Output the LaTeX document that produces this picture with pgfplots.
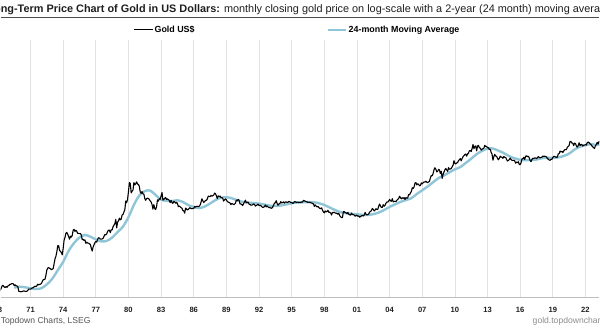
\documentclass[border=0pt]{standalone}
\usepackage{pgfplots}
\usepackage{pgfplotstable}
\pgfplotsset{compat=1.18}
\usepackage{fontspec}
\setmainfont{Liberation Sans}

\definecolor{maBlue}{RGB}{143,197,214}
\definecolor{gridGrey}{RGB}{226,226,226}
\definecolor{axisGrey}{RGB}{190,190,190}
\definecolor{srcGrey}{RGB}{85,85,85}
\definecolor{urlGrey}{RGB}{140,140,140}
\definecolor{inkDark}{RGB}{30,30,30}

% Gold, US$ per troy ounce, month-end close; one row of twelve months per year, 1968-2023
\pgfplotstableread[row sep=\\]{
p\\
35.2\\ 35.2\\ 37.0\\ 39.2\\ 41.5\\ 41.0\\ 39.6\\ 39.2\\ 40.2\\ 39.3\\ 40.9\\ 41.1\\
42.4\\ 42.6\\ 43.3\\ 43.4\\ 43.2\\ 41.3\\ 42.0\\ 41.0\\ 40.8\\ 40.0\\ 35.4\\ 35.2\\
34.9\\ 35.0\\ 35.1\\ 35.6\\ 35.8\\ 35.3\\ 35.3\\ 35.4\\ 36.2\\ 37.5\\ 37.4\\ 37.4\\
38.0\\ 38.8\\ 38.9\\ 39.9\\ 40.5\\ 40.1\\ 41.0\\ 42.8\\ 42.0\\ 42.5\\ 42.9\\ 43.6\\
46.0\\ 48.3\\ 48.3\\ 49.0\\ 54.6\\ 62.7\\ 66.0\\ 67.0\\ 65.4\\ 64.9\\ 62.9\\ 63.9\\
65.1\\ 74.2\\ 84.5\\ 90.5\\ 102\\ 120\\ 120\\ 106\\ 103\\ 100\\ 94\\ 112\\
139\\ 150\\ 168\\ 172\\ 163\\ 154\\ 143\\ 155\\ 151\\ 158\\ 182\\ 186.5\\
175.8\\ 181.8\\ 177\\ 167\\ 167\\ 166\\ 166.7\\ 159.8\\ 141\\ 142.9\\ 138.2\\ 140.3\\
128\\ 132.3\\ 128.8\\ 128.4\\ 126.4\\ 123.8\\ 112.5\\ 104\\ 116\\ 123.2\\ 130.3\\ 134.5\\
132.3\\ 142.8\\ 148.9\\ 147.3\\ 143\\ 143\\ 144.1\\ 146\\ 154.1\\ 162.3\\ 160.1\\ 164.9\\
175.8\\ 182.3\\ 181.6\\ 170.9\\ 184.2\\ 183.1\\ 200.3\\ 208.1\\ 217.1\\ 242.6\\ 193.4\\ 226\\
233.7\\ 251.3\\ 240.1\\ 245.3\\ 274.6\\ 277.5\\ 296.5\\ 315.1\\ 397.3\\ 382\\ 415.7\\ 512\\
653\\ 637\\ 494.5\\ 518\\ 535.5\\ 653.5\\ 614.3\\ 631.3\\ 666.8\\ 629\\ 619.8\\ 589.8\\
506.5\\ 489\\ 513.8\\ 482.8\\ 479.3\\ 426\\ 406\\ 425.5\\ 428.8\\ 427.5\\ 414.5\\ 400\\
387\\ 362.6\\ 320\\ 361.3\\ 325.3\\ 317\\ 342\\ 411.5\\ 397\\ 423.3\\ 416.8\\ 456.9\\
499.5\\ 408.5\\ 414.8\\ 429.3\\ 437.5\\ 416\\ 422\\ 414.3\\ 405\\ 382\\ 405\\ 382.4\\
373.8\\ 394.3\\ 388.5\\ 375.8\\ 384.3\\ 373.1\\ 342.4\\ 348.3\\ 341.1\\ 333.5\\ 329\\ 309\\
306.7\\ 287.8\\ 329.3\\ 321.4\\ 314\\ 317.8\\ 327.5\\ 333.3\\ 324\\ 325.3\\ 325.3\\ 326.8\\
345.5\\ 338.2\\ 344\\ 345.8\\ 343.2\\ 345.5\\ 357.5\\ 384.7\\ 423.2\\ 401\\ 383.5\\ 390.9\\
405.9\\ 405.9\\ 421.4\\ 453.3\\ 451\\ 447.3\\ 462.5\\ 453.4\\ 459.5\\ 466.5\\ 492.5\\ 484.1\\
458\\ 426.2\\ 457\\ 449\\ 455.5\\ 436.6\\ 436.8\\ 427.8\\ 397.7\\ 412.4\\ 422.6\\ 410.2\\
394\\ 387\\ 383.2\\ 377.6\\ 361.8\\ 373\\ 368.3\\ 359.8\\ 366.5\\ 375.3\\ 408.2\\ 401\\
415.1\\ 407.7\\ 368.5\\ 367.8\\ 363.1\\ 352.2\\ 372.3\\ 387.8\\ 408.4\\ 379.5\\ 384.9\\ 386.2\\
366\\ 362.7\\ 355.7\\ 357.8\\ 360.4\\ 368.4\\ 362.9\\ 347.4\\ 354.9\\ 357.5\\ 366.3\\ 353.2\\
354.1\\ 353.1\\ 341.7\\ 336.4\\ 337.5\\ 343.4\\ 357.8\\ 340\\ 349\\ 339.3\\ 334.2\\ 332.9\\
330.5\\ 327.6\\ 337.8\\ 354.3\\ 377.5\\ 378.5\\ 401.8\\ 371.6\\ 355.5\\ 369.6\\ 370.9\\ 391.8\\
377.9\\ 381.6\\ 389.2\\ 376.5\\ 387.6\\ 388.3\\ 384\\ 385.8\\ 394.9\\ 389.1\\ 383.1\\ 383.3\\
374.9\\ 376.4\\ 392\\ 389.8\\ 384.3\\ 387.1\\ 383.4\\ 382.4\\ 384\\ 382.7\\ 387.8\\ 387\\
405.6\\ 400.7\\ 396.4\\ 391.3\\ 390.6\\ 382\\ 385.3\\ 386.5\\ 379\\ 379.5\\ 371.3\\ 369.3\\
345.5\\ 358.6\\ 348.2\\ 340.2\\ 345.6\\ 334.6\\ 326.4\\ 325.4\\ 332.1\\ 311.4\\ 296.8\\ 290.2\\
304.9\\ 297.4\\ 301.5\\ 310.7\\ 293.6\\ 296.3\\ 288.9\\ 273.4\\ 293.9\\ 292.3\\ 294.7\\ 287.5\\
287.1\\ 287.3\\ 279.5\\ 286.6\\ 268.6\\ 261\\ 255.6\\ 254.8\\ 299\\ 299.1\\ 291.4\\ 290.3\\
283.3\\ 293.7\\ 278.4\\ 275.1\\ 272.3\\ 288.2\\ 276.8\\ 277\\ 273.7\\ 264.5\\ 269.1\\ 272.7\\
264.5\\ 266.7\\ 257.7\\ 263.2\\ 267.5\\ 270.6\\ 265.9\\ 273\\ 293.1\\ 278.8\\ 274.2\\ 276.5\\
282.3\\ 296.9\\ 301.4\\ 308.2\\ 326.6\\ 318.5\\ 304.7\\ 312.8\\ 323.7\\ 316.9\\ 319.1\\ 347.2\\
367.5\\ 347.5\\ 334.9\\ 336.8\\ 361.4\\ 346\\ 354.8\\ 375.6\\ 388\\ 386.3\\ 398.4\\ 416.3\\
399.8\\ 395.9\\ 423.7\\ 388.5\\ 393.3\\ 395.8\\ 391.4\\ 407.3\\ 415.7\\ 425.6\\ 453.4\\ 435.6\\
422.2\\ 435.5\\ 427.5\\ 435.7\\ 414.5\\ 437.1\\ 429\\ 433.3\\ 473.3\\ 470.8\\ 495.7\\ 513\\
568.8\\ 556\\ 582\\ 644\\ 653\\ 613.5\\ 632.5\\ 623.5\\ 599.3\\ 603.8\\ 646.7\\ 632\\
650.5\\ 664.2\\ 661.8\\ 677\\ 659.1\\ 650.5\\ 665.5\\ 672\\ 743\\ 789.5\\ 783.5\\ 833.8\\
923.3\\ 971.5\\ 933.5\\ 871\\ 885.8\\ 930.3\\ 918\\ 833\\ 884.5\\ 730.8\\ 814.5\\ 869.8\\
919.5\\ 952\\ 916.5\\ 883.3\\ 975.5\\ 934.5\\ 939\\ 955.5\\ 995.8\\ 1040\\ 1175.8\\ 1087.5\\
1078.5\\ 1108.3\\ 1115.5\\ 1179.3\\ 1207.5\\ 1244\\ 1169\\ 1246\\ 1307\\ 1346.8\\ 1383.5\\ 1405.5\\
1327\\ 1411\\ 1439\\ 1535.5\\ 1536.5\\ 1505.5\\ 1628.5\\ 1813.5\\ 1620\\ 1722\\ 1746\\ 1531\\
1744\\ 1770\\ 1662.5\\ 1651.3\\ 1558\\ 1598.5\\ 1622\\ 1648.5\\ 1776\\ 1719\\ 1726\\ 1657.5\\
1664.8\\ 1588.5\\ 1598.3\\ 1469\\ 1394.5\\ 1192\\ 1314.5\\ 1394.8\\ 1326.5\\ 1324\\ 1253\\ 1204.5\\
1251\\ 1326.5\\ 1291.8\\ 1288.5\\ 1250.5\\ 1315\\ 1285.8\\ 1285.8\\ 1216.5\\ 1164.3\\ 1182.8\\ 1206\\
1260.3\\ 1214\\ 1187\\ 1180.3\\ 1190.5\\ 1171\\ 1098.4\\ 1135\\ 1115.5\\ 1142.4\\ 1061.3\\ 1060\\
1111.8\\ 1234.9\\ 1237\\ 1285.7\\ 1214.7\\ 1320.8\\ 1342\\ 1308.4\\ 1322.5\\ 1272\\ 1178.1\\ 1145.9\\
1212.8\\ 1255.6\\ 1244.9\\ 1266.5\\ 1266.2\\ 1242.3\\ 1267.6\\ 1311.8\\ 1283.1\\ 1270.2\\ 1280.2\\ 1291\\
1331.3\\ 1317.9\\ 1324.7\\ 1315.1\\ 1298.2\\ 1250.5\\ 1220.5\\ 1200.1\\ 1187.3\\ 1215\\ 1217.6\\ 1279\\
1319.2\\ 1319.9\\ 1295.4\\ 1283.5\\ 1295.7\\ 1409\\ 1419.4\\ 1520.4\\ 1485.3\\ 1511\\ 1464\\ 1514.8\\
1573.6\\ 1585.1\\ 1577.2\\ 1686.7\\ 1725.3\\ 1768.1\\ 1970.6\\ 1968.1\\ 1886.9\\ 1879.9\\ 1762.6\\ 1887.6\\
1863.8\\ 1743.3\\ 1691.1\\ 1767.9\\ 1900.3\\ 1763.2\\ 1812.7\\ 1814\\ 1742.8\\ 1782.5\\ 1785.7\\ 1805.9\\
1788.2\\ 1908.3\\ 1942.2\\ 1911.3\\ 1848.4\\ 1817\\ 1753.4\\ 1711.1\\ 1660.6\\ 1633.6\\ 1753.8\\ 1813.8\\
1923.9\\ 1836.5\\ 1969\\ 1990\\ 1962.6\\ 1912.3\\ 1970.1\\ 1942.3\\ 1870.1\\ 1983.3\\ 2034.7\\ 2062.4\\
}\goldtab

% 24-month moving average at the end of each June and December (m = months after Jan 1968)
\pgfplotstableread[row sep=\\]{
m v\\
18 39.0\\ 24 40.0\\ 30 39.3\\ 36 38.4\\ 42 37.6\\ 48 38.4\\ 54 42.5\\ 60 49.6\\
66 62.1\\ 72 77.9\\ 78 104.5\\ 84 128.9\\ 90 149.6\\ 96 160.2\\ 102 152.8\\ 108 142.2\\
114 134.8\\ 120 136.6\\ 126 149.5\\ 132 173.1\\ 138 200.9\\ 144 258.6\\ 150 359.2\\ 156 461.8\\
162 519.1\\ 168 526.8\\ 174 467.7\\ 180 413.4\\ 186 401.2\\ 192 397.4\\ 198 406.4\\ 204 387.9\\
210 357.5\\ 216 338.8\\ 222 329.4\\ 228 343.4\\ 234 372.9\\ 240 408.6\\ 246 434.5\\ 252 441.4\\
258 428.6\\ 264 406.1\\ 270 389.1\\ 276 381.2\\ 282 376.8\\ 288 371.1\\ 294 362.4\\ 300 351.4\\
306 348.7\\ 312 353.6\\ 318 363.4\\ 324 374.5\\ 330 382.8\\ 336 384.7\\ 342 387.5\\ 348 385.4\\
354 375.8\\ 360 358.0\\ 366 334.6\\ 372 312.1\\ 378 295.3\\ 384 287.3\\ 390 282.6\\ 396 278.6\\
402 275.2\\ 408 274.0\\ 414 280.0\\ 420 292.1\\ 426 313.1\\ 432 340.5\\ 438 364.0\\ 444 389.2\\
450 409.1\\ 456 429.8\\ 462 480.6\\ 468 531.0\\ 474 588.9\\ 480 658.6\\ 486 737.7\\ 492 792.4\\
498 859.8\\ 504 930.9\\ 510 990.0\\ 516 1106.9\\ 522 1239.1\\ 528 1400.3\\ 534 1527.4\\ 540 1622.9\\
546 1629.2\\ 552 1535.8\\ 558 1441.5\\ 564 1324.5\\ 570 1253.5\\ 576 1203.3\\ 582 1190.1\\ 588 1199.6\\
594 1211.5\\ 600 1257.0\\ 606 1275.0\\ 612 1264.6\\ 618 1282.7\\ 624 1333.1\\ 630 1419.7\\ 636 1587.9\\
642 1704.9\\ 648 1781.1\\ 654 1835.2\\ 660 1792.3\\ 666 1828.3\\ 672 1875.0\\
}\matab

\begin{document}
\begin{tikzpicture}
% page frame
\path (0pt,0pt) rectangle (600pt,330pt);

\begin{axis}[
  name=main,
  at={(0pt,32pt)}, anchor=south west,
  scale only axis, width=600pt, height=258pt,
  xmin=2.98, xmax=663.4,
  ymode=log, ymin=30, ymax=30000,
  axis x line*=bottom, axis y line=none,
  x axis line style={draw=axisGrey, line width=0.8pt, -},
  xtick={0,36,72,108,144,180,216,252,288,324,360,396,432,468,504,540,576,612,648},
  xticklabels={68,71,74,77,80,83,86,89,92,95,98,01,04,07,10,13,16,19,22},
  xticklabel style={font=\fontsize{7.6}{9}\bfseries, text=inkDark, yshift=-6.5pt},
  major tick length=0pt,
  ytick=\empty,
  xmajorgrids, grid style={draw=gridGrey, line width=0.7pt},
  reverse legend,
  legend columns=2,
  legend style={draw=none, fill=none, at={(axis description cs:0.2217,1.0388)}, anchor=west,
    font=\fontsize{8.9}{10}\bfseries, inner sep=0pt,
    nodes={inner xsep=1pt, inner ysep=0pt},
    /tikz/every even column/.append style={column sep=131pt}},
  legend image code/.code={\draw[#1] (0pt,0pt) -- (19pt,0pt);},
]
\addplot[maBlue, line width=2.4pt, smooth, tension=0.55] table[x=m, y=v] {\matab};
\addlegendentry{24-month Moving Average}
\addplot[black, line width=1.1pt, line join=round] table[x expr=\coordindex+1, y=p] {\goldtab};
\addlegendentry{Gold US\$}
\end{axis}

% 1968 label, half outside the frame
\node[overlay, anchor=north, yshift=-6.5pt, font=\fontsize{7.6}{9}\bfseries, text=inkDark]
  at ([xshift=-2.7pt]main.south west) {68};

% headline and rule
\node[overlay, anchor=base west, inner sep=0, font=\fontsize{10.9}{13}\selectfont, text=inkDark]
  at (0pt,317.5pt) {\llap{\bfseries Lo}\textbf{ng-Term Price Chart of Gold in US Dollars:} monthly closing gold price on log-scale with a 2-year (24 month) moving average};
\draw[line width=1.2pt, black!70] (0pt,312.7pt) -- (600pt,312.7pt);

% source line
\node[anchor=base west, inner sep=0, font=\fontsize{8.6}{10}\selectfont, text=srcGrey]
  at (0pt,6pt) {\llap{Source: }Topdown Charts, LSEG};
\node[overlay, anchor=base west, inner sep=0, font=\fontsize{8.6}{10}\selectfont, text=urlGrey]
  at (533pt,6pt) {gold.topdowncharts.com};
\end{tikzpicture}
\end{document}
